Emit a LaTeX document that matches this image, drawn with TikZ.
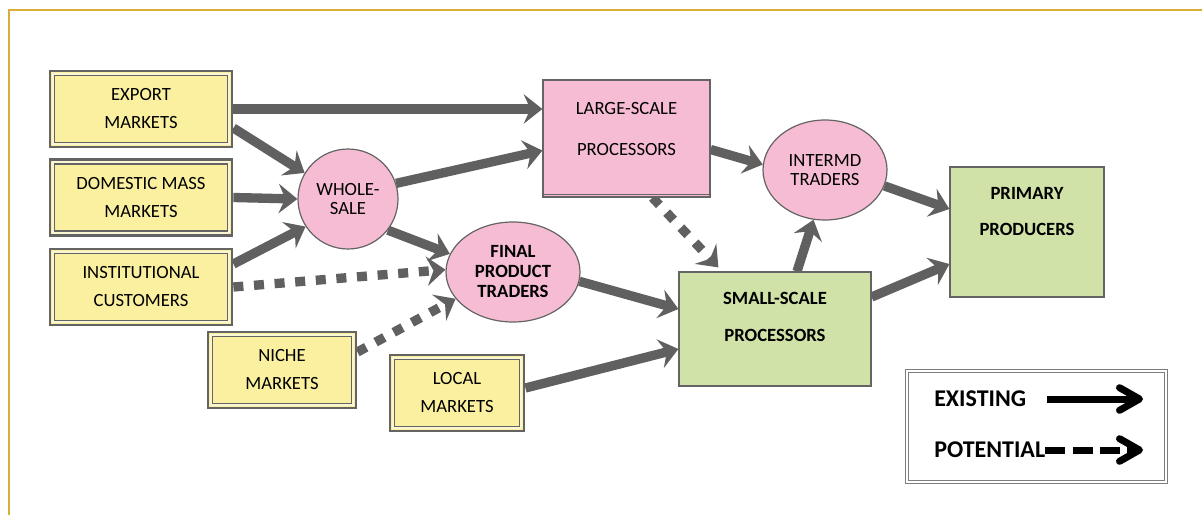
\documentclass[tikz,border=0pt]{standalone}
\usepackage{fontspec}
\setmainfont{Carlito}
\usetikzlibrary{arrows.meta,calc,shapes.geometric,backgrounds}
\definecolor{gold}{RGB}{214,174,56}
\definecolor{ygfill}{RGB}{250,240,160}
\definecolor{ygap}{RGB}{250,246,212}
\definecolor{pinkfill}{RGB}{246,188,212}
\definecolor{greenfill}{RGB}{208,226,168}
\definecolor{agray}{RGB}{96,96,96}
\definecolor{bgray}{RGB}{100,100,100}
\definecolor{lgray}{RGB}{125,125,125}
\begin{document}
\begin{tikzpicture}[x=0.75pt,y=-0.75pt,
  txt/.style={inner sep=0pt, align=center, text=black, font=\fontsize{14}{21}\selectfont},
  ybox/.style={rectangle, draw=bgray, line width=2.1pt,
     fill=ygfill, inner sep=0pt, minimum height=57pt, align=center, font=\fontsize{14}{21}\selectfont,
     path picture={
       \draw[ygap, line width=1.6pt] ($(path picture bounding box.south west)+(2.6,-2.6)$) rectangle ($(path picture bounding box.north east)+(-2.6,2.6)$);
       \draw[bgray, line width=1.1pt] ($(path picture bounding box.south west)+(4.4,-4.4)$) rectangle ($(path picture bounding box.north east)+(-4.4,4.4)$);
     }},
  pbox/.style={rectangle, draw=bgray, line width=0.9pt, fill=pinkfill, inner sep=0pt},
  gbox/.style={rectangle, draw=bgray, line width=0.9pt, fill=greenfill, inner sep=0pt},
  pell/.style={ellipse, draw=bgray, line width=0.9pt, fill=pinkfill, inner sep=0pt, align=center},
  flow/.style={draw=agray, line width=7pt, -{Stealth[length=14pt,width=22pt,inset=5pt]}},
  flowd/.style={flow, dash pattern=on 7.5pt off 8pt},
  legarrow/.style={draw=black, line width=5.25pt, -{Straight Barb[length=15pt,width=17pt,round]}},
  lt/.style={inner sep=0pt, text=black, font=\fontsize{18}{22}\selectfont\bfseries}
]
\useasboundingbox (0,0) rectangle (1202,514);
\draw[gold, line width=1.6pt] (9,10) rectangle (1230,540);

% market boxes
\node[ybox, minimum width=136.5pt] (exp) at (141,109) {EXPORT\\MARKETS};
\node[ybox, minimum width=136.5pt] (dom) at (141,197.5) {DOMESTIC MASS\\MARKETS};
\node[ybox, minimum width=136.5pt] (ins) at (141,287) {INSTITUTIONAL\\CUSTOMERS};
\node[ybox, minimum width=111pt] (nic) at (282,370) {NICHE\\MARKETS};
\node[ybox, minimum width=100.5pt] (loc) at (457,393) {LOCAL\\MARKETS};

% intermediaries
\node[circle, draw=bgray, line width=0.9pt, fill=pinkfill, inner sep=0pt, minimum size=75pt,
  align=center, font=\fontsize{14}{14.6}\selectfont] (wh) at (348,199) {WHOLE-\\SALE};
\node[pell, minimum width=100.5pt, minimum height=75pt, font=\fontsize{14}{15}\selectfont\bfseries]
  (fin) at (513,272) {FINAL\\PRODUCT\\TRADERS};
\node[pell, minimum width=93pt, minimum height=75pt, font=\fontsize{14}{14.5}\selectfont]
  (int) at (825,170) {INTERMD\\TRADERS};

\node[pbox, minimum width=125.25pt, minimum height=87.75pt] (lsp) at (626.5,138.5) {};
\draw[bgray, line width=0.8pt] ($(lsp.south west)+(0,-3)$) -- ($(lsp.south east)+(0,-3)$);
\node[txt, font=\fontsize{14}{30.75}\selectfont] (lspT) at (626.5,129.5) {LARGE-SCALE\\PROCESSORS};

\node[gbox, minimum width=144pt, minimum height=85.5pt] (ssp) at (775,329) {};
\node[txt, font=\fontsize{14}{27.75}\selectfont\bfseries] (sspT) at (775,316.5) {SMALL-SCALE\\PROCESSORS};

\node[gbox, minimum width=115.5pt, minimum height=97.5pt] (pp) at (1027,232) {};
\node[txt, font=\fontsize{14}{27}\selectfont\bfseries] (ppT) at (1027,212) {PRIMARY\\PRODUCERS};

% connectors
\begin{scope}[on background layer]
\draw[flow] (exp.east) -- (exp.east -| lsp.west);
\draw[flow] ($(exp.east)+(0,19)$) -- (wh.149);
\draw[flow] (dom.east) -- (wh.180);
\draw[flow] ($(ins.east)+(0,-23)$) -- (wh.213);
\draw[flow] (wh.18) -- ($(lsp.west)+(0,12)$);
\draw[flow] (wh.-38) -- (fin.164);
\draw[flowd] (ins.east) -- (fin.178);
\draw[flowd] ($(nic.east)+(0,-18)$) -- (fin.205);
\draw[flow] (fin.-8) -- ($(ssp.west)+(0,-20)$);
\draw[flow] ($(loc.east)+(0,-5)$) -- ($(ssp.west)+(0,20)$);
\draw[flowd] ($(lsp.south)+(26,0)$) -- ($(ssp.north west)+(40,-4)$);
\draw[flow] ($(lsp.east)+(0,11)$) -- (int.175);
\draw[flow] ($(ssp.north)+(22,0)$) -- (int.257);
\draw[flow] (int.-15) -- ($(pp.west)+(0,-23)$);
\draw[flow] ($(ssp.east)+(0,-32)$) -- ($(pp.west)+(0,32)$);
\end{scope}

% legend
\node[rectangle, draw=lgray, double=white, line width=0.8pt, double distance=1.6pt,
  minimum width=194.25pt, minimum height=83.25pt, inner sep=0pt] (leg) at (1036.5,426.5) {};
\node[lt, anchor=west] (ext) at (934,399) {EXISTING};
\node[lt, anchor=west] (pot) at (934,450) {POTENTIAL};
\coordinate (exE) at (1143,399);
\coordinate (poE) at (1143,450);
\draw[legarrow] ($(ext.east)+(21,0)$) -- (exE);
\draw[legarrow, dash pattern=on 15pt off 5.5pt] (pot.east) -- (poE);
\end{tikzpicture}
\end{document}
